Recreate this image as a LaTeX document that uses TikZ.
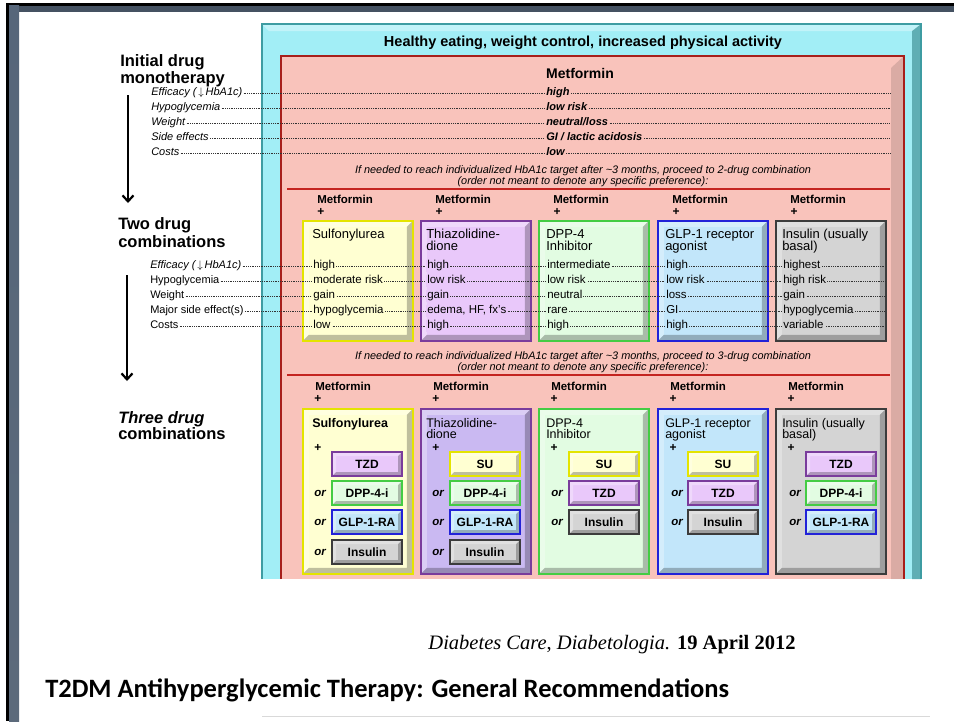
\documentclass[tikz,border=0pt]{standalone}
\usepackage{fontspec}
\setmainfont{Liberation Sans}
\newfontfamily\timesfont{Liberation Serif}
\newfontfamily\calibrifont{Carlito}
\usetikzlibrary{arrows.meta}

\definecolor{cyanband}{HTML}{A2EEF6}
\definecolor{tealedge}{HTML}{3E9CA2}
\definecolor{tealdark}{HTML}{5FAEB4}
\definecolor{pinkbg}{HTML}{F9C3BB}
\definecolor{redline}{HTML}{C42420}
\definecolor{sufill}{HTML}{FFFFD2}
\definecolor{suedge}{HTML}{E4E400}
\definecolor{tzfill}{HTML}{E9C8FA}
\definecolor{tzfillb}{HTML}{CAB9F2}
\definecolor{tzedge}{HTML}{7A3C9C}
\definecolor{dpfill}{HTML}{E2FCE2}
\definecolor{dpedge}{HTML}{44CC44}
\definecolor{glfill}{HTML}{C2E6FA}
\definecolor{gledge}{HTML}{2222D8}
\definecolor{infill}{HTML}{D4D4D4}
\definecolor{inedge}{HTML}{3C3C3C}
\definecolor{slate}{HTML}{56667A}
\definecolor{mauve}{HTML}{86706F}

\begin{document}
\begin{tikzpicture}[x=1pt,y=-1pt,line width=.5pt,
  bevel/.style={path picture={
    \fill[black,opacity=.25] (path picture bounding box.north east) -- (path picture bounding box.south east) -- (path picture bounding box.south west) -- ([shift={(#1,-#1)}]path picture bounding box.south west) -- ([shift={(-#1,-#1)}]path picture bounding box.south east) -- ([shift={(-#1,#1)}]path picture bounding box.north east) -- cycle;
    \fill[white,opacity=.3] (path picture bounding box.north west) -- (path picture bounding box.north east) -- ([shift={(-#1,#1)}]path picture bounding box.north east) -- ([shift={(#1,#1)}]path picture bounding box.north west) -- ([shift={(#1,-#1)}]path picture bounding box.south west) -- (path picture bounding box.south west) -- cycle;}},
  drugbox/.style 2 args={fill=#1,draw=#2,line width=1.5pt,bevel=6,inner sep=0pt,anchor=north west,minimum width=110},
  pill/.style 2 args={fill=#1,draw=#2,line width=1.4pt,bevel=4,inner sep=0pt,minimum width=70,minimum height=24,font=\bfseries\fontsize{12}{14}\selectfont},
  leader/.style={line width=.45pt,dash pattern=on .9pt off .9pt,black!80},
  mlab/.style={anchor=west,inner sep=1pt,font=\itshape\fontsize{11}{13}\selectfont,text height=8pt,text depth=2.5pt},
  rowlab/.style={anchor=west,inner sep=1pt,font=\fontsize{11}{13}\selectfont,text height=8pt,text depth=2.5pt},
  monoval/.style={anchor=west,inner sep=1pt,fill=pinkbg,font=\bfseries\itshape\fontsize{11}{13}\selectfont,text height=8pt,text depth=2.5pt},
  val/.style={anchor=west,inner sep=1pt,font=\fontsize{11.5}{13}\selectfont,text height=8pt,text depth=2.5pt},
  title/.style={anchor=base west,inner sep=0pt,font=\fontsize{13}{14}\selectfont},
  metf/.style={anchor=west,inner sep=0pt,font=\bfseries\fontsize{11.5}{13}\selectfont},
  plus/.style={inner sep=0pt,font=\bfseries\fontsize{12}{13}\selectfont},
  orlab/.style={inner sep=0pt,font=\bfseries\itshape\fontsize{11.5}{13}\selectfont},
  note/.style={inner sep=0pt,font=\itshape\fontsize{10.9}{12}\selectfont},
  stage/.style={anchor=base west,inner sep=0pt,font=\bfseries\fontsize{16.5}{18}\selectfont},
  stagearrow/.style={line width=2.2pt,-{Straight Barb[length=6pt,width=11pt]}}]
\path[use as bounding box] (0,0) rectangle (954,721);
% slide frame
\fill[black] (6,3) rectangle (954,5.5);
\fill[black] (6,3) rectangle (9,721);
\shade[top color=slate,middle color=mauve,bottom color=slate!85!gray] (9,5.5) rectangle (19,721);
\fill[slate!80!black] (19,5.5) rectangle (954,12);
% lifestyle frame
\fill[cyanband] (262,24) rectangle (921,579);
\fill[tealdark] (912,31) -- (921,24) -- (921,579) -- (912,579) -- cycle;
\fill[white,opacity=.35] (262,24) -- (921,24) -- (912,31) -- (269,31) -- cycle;
\draw[tealedge,line width=1.4pt] (262,579) -- (262,24) -- (921,24) -- (921,579);
\node[font=\bfseries\fontsize{14.5}{16}\selectfont] (hdr) at (583,43) {Healthy eating, weight control, increased physical activity};
% metformin panel
\fill[pinkbg] (280,55) rectangle (905,579);
\fill[black,opacity=.12] (891,68) -- (904,56) -- (904,579) -- (891,579) -- cycle;
\draw[redline!85!black,line width=1.6pt] (281,579) -- (281,56) -- (904,56) -- (904,579);
\node[font=\bfseries\fontsize{14}{16}\selectfont] (met) at (580,73) {Metformin};
% stage labels
\node[stage] (mono1) at (120,66) {Initial drug};
\node[stage] (mono2) at (120,83) {monotherapy};
\draw[stagearrow] (128,95) -- (128,203);
\node[stage] (two1) at (118,229) {Two drug};
\node[stage] (two2) at (118,247) {combinations};
\draw[stagearrow] (127,275) -- (127,381);
\node[stage,font=\bfseries\itshape\fontsize{16.5}{18}\selectfont] (three1) at (118,423) {Three drug};
\node[stage] (three2) at (118,439) {combinations};
% monotherapy rows
\node[mlab] (m1) at (150,93) {Efficacy (\,$\downarrow$\,HbA1c)};
\node[mlab] (m2) at (150,108) {Hypoglycemia};
\node[mlab] (m3) at (150,123) {Weight};
\node[mlab] (m4) at (150,138) {Side effects};
\node[mlab] (m5) at (150,153) {Costs};
\coordinate (m1e) at (890,93);
\coordinate (m2e) at (890,108);
\coordinate (m3e) at (890,123);
\coordinate (m4e) at (890,138);
\coordinate (m5e) at (890,153);
\draw[leader] (m1.east) -- (m1e);
\draw[leader] (m2.east) -- (m2e);
\draw[leader] (m3.east) -- (m3e);
\draw[leader] (m4.east) -- (m4e);
\draw[leader] (m5.east) -- (m5e);
\node[monoval] (mv1) at (545,93) {high};
\node[monoval] (mv2) at (545,108) {low risk};
\node[monoval] (mv3) at (545,123) {neutral/loss};
\node[monoval] (mv4) at (545,138) {GI / lactic acidosis};
\node[monoval] (mv5) at (545,153) {low};
\node[note] (n2a) at (583,171) {If needed to reach individualized HbA1c target after \textasciitilde3 months, proceed to 2-drug combination};
\node[note] (n2b) at (583,182) {(order not meant to denote any specific preference):};
\draw[redline,line width=1.8pt] (287,189) -- (890,189);
% two drug combinations
\node[metf] (mf21) at (317,199) {Metformin};
\node[metf] (mf22) at (435,199) {Metformin};
\node[metf] (mf23) at (553,199) {Metformin};
\node[metf] (mf24) at (672,199) {Metformin};
\node[metf] (mf25) at (790,199) {Metformin};
\node[plus] (p21) at (321,212) {+};
\node[plus] (p22) at (439,212) {+};
\node[plus] (p23) at (557,212) {+};
\node[plus] (p24) at (676,212) {+};
\node[plus] (p25) at (794,212) {+};
\node[drugbox={sufill}{suedge},minimum height=120] (su2) at (302,220) {};
\node[drugbox={tzfill}{tzedge},minimum height=120] (tz2) at (420,220) {};
\node[drugbox={dpfill}{dpedge},minimum height=120] (dp2) at (538,220) {};
\node[drugbox={glfill}{gledge},minimum height=120] (gl2) at (657,220) {};
\node[drugbox={infill}{inedge},minimum height=120] (in2) at (775,220) {};
\node[title] (su2t) at (312,238) {Sulfonylurea};
\node[title] (tz2t) at (426,238) {Thiazolidine-};
\node[title] (tz2u) at (426,250) {dione};
\node[title] (dp2t) at (546,238) {DPP-4};
\node[title] (dp2u) at (546,250) {Inhibitor};
\node[title] (gl2t) at (665,238) {GLP-1 receptor};
\node[title] (gl2u) at (665,250) {agonist};
\node[title] (in2t) at (782,238) {Insulin (usually};
\node[title] (in2u) at (782,250) {basal)};
\node[rowlab,font=\itshape\fontsize{11}{13}\selectfont] (r1) at (149,266) {Efficacy (\,$\downarrow$\,HbA1c)};
\node[rowlab] (r2) at (149,281) {Hypoglycemia};
\node[rowlab] (r3) at (149,296) {Weight};
\node[rowlab] (r4) at (149,311) {Major side effect(s)};
\node[rowlab] (r5) at (149,326) {Costs};
\coordinate (r1e) at (885,266);
\coordinate (r2e) at (885,281);
\coordinate (r3e) at (885,296);
\coordinate (r4e) at (885,311);
\coordinate (r5e) at (885,326);
\draw[leader] (r1.east) -- (r1e);
\draw[leader] (r2.east) -- (r2e);
\draw[leader] (r3.east) -- (r3e);
\draw[leader] (r4.east) -- (r4e);
\draw[leader] (r5.east) -- (r5e);
\node[val,fill=sufill] (su2a) at (312,266) {high};
\node[val,fill=sufill] (su2b) at (312,281) {moderate risk};
\node[val,fill=sufill] (su2c) at (312,296) {gain};
\node[val,fill=sufill] (su2d) at (312,311) {hypoglycemia};
\node[val,fill=sufill] (su2e) at (312,326) {low};
\node[val,fill=tzfill] (tz2a) at (426,266) {high};
\node[val,fill=tzfill] (tz2b) at (426,281) {low risk};
\node[val,fill=tzfill] (tz2c) at (426,296) {gain};
\node[val,fill=tzfill] (tz2d) at (426,311) {edema, HF, fx's};
\node[val,fill=tzfill] (tz2e) at (426,326) {high};
\node[val,fill=dpfill] (dp2a) at (546,266) {intermediate};
\node[val,fill=dpfill] (dp2b) at (546,281) {low risk};
\node[val,fill=dpfill] (dp2c) at (546,296) {neutral};
\node[val,fill=dpfill] (dp2d) at (546,311) {rare};
\node[val,fill=dpfill] (dp2e) at (546,326) {high};
\node[val,fill=glfill] (gl2a) at (665,266) {high};
\node[val,fill=glfill] (gl2b) at (665,281) {low risk};
\node[val,fill=glfill] (gl2c) at (665,296) {loss};
\node[val,fill=glfill] (gl2d) at (665,311) {GI};
\node[val,fill=glfill] (gl2e) at (665,326) {high};
\node[val,fill=infill] (in2a) at (782,266) {highest};
\node[val,fill=infill] (in2b) at (782,281) {high risk};
\node[val,fill=infill] (in2c) at (782,296) {gain};
\node[val,fill=infill] (in2d) at (782,311) {hypoglycemia};
\node[val,fill=infill] (in2e) at (782,326) {variable};
\node[note] (n3a) at (583,357) {If needed to reach individualized HbA1c target after \textasciitilde3 months, proceed to 3-drug combination};
\node[note] (n3b) at (583,368) {(order not meant to denote any specific preference):};
\draw[redline,line width=1.8pt] (287,375) -- (890,375);
% three drug combinations
\node[metf] (mf31) at (315,386) {Metformin};
\node[metf] (mf32) at (433,386) {Metformin};
\node[metf] (mf33) at (551,386) {Metformin};
\node[metf] (mf34) at (670,386) {Metformin};
\node[metf] (mf35) at (788,386) {Metformin};
\node[plus] (p31) at (318,399) {+};
\node[plus] (p32) at (436,399) {+};
\node[plus] (p33) at (554,399) {+};
\node[plus] (p34) at (673,399) {+};
\node[plus] (p35) at (791,399) {+};
\node[drugbox={sufill}{suedge},minimum height=165] (su3) at (302,408) {};
\node[drugbox={tzfillb}{tzedge},minimum height=165] (tz3) at (420,408) {};
\node[drugbox={dpfill}{dpedge},minimum height=165] (dp3) at (538,408) {};
\node[drugbox={glfill}{gledge},minimum height=165] (gl3) at (657,408) {};
\node[drugbox={infill}{inedge},minimum height=165] (in3) at (775,408) {};
\node[title,font=\bfseries\fontsize{12.5}{13}\selectfont] (su3t) at (312,427.5) {Sulfonylurea};
\node[title,font=\fontsize{12.5}{13}\selectfont] (tz3t) at (426,427.5) {Thiazolidine-};
\node[title,font=\fontsize{12.5}{13}\selectfont] (tz3u) at (426,438.5) {dione};
\node[title,font=\fontsize{12.5}{13}\selectfont] (dp3t) at (546,427.5) {DPP-4};
\node[title,font=\fontsize{12.5}{13}\selectfont] (dp3u) at (546,438.5) {Inhibitor};
\node[title,font=\fontsize{12.5}{13}\selectfont] (gl3t) at (665,427.5) {GLP-1 receptor};
\node[title,font=\fontsize{12.5}{13}\selectfont] (gl3u) at (665,438.5) {agonist};
\node[title,font=\fontsize{12.5}{13}\selectfont] (in3t) at (782,427.5) {Insulin (usually};
\node[title,font=\fontsize{12.5}{13}\selectfont] (in3u) at (782,438.5) {basal)};
\node[plus] (q31) at (318,448) {+};
\node[plus] (q32) at (436,448) {+};
\node[plus] (q33) at (554,448) {+};
\node[plus] (q34) at (673,448) {+};
\node[plus] (q35) at (791,448) {+};
% sulfonylurea add-ons
\node[pill={tzfill}{tzedge}] (su3a) at (367,464) {TZD};
\node[pill={dpfill}{dpedge}] (su3b) at (367,493) {DPP-4-i};
\node[pill={glfill}{gledge}] (su3c) at (367,522) {GLP-1-RA};
\node[pill={infill}{inedge}] (su3d) at (367,552) {Insulin};
\node[orlab] (or31b) at (320,493) {or};
\node[orlab] (or31c) at (320,522) {or};
\node[orlab] (or31d) at (320,552) {or};
% thiazolidinedione add-ons
\node[pill={sufill}{suedge}] (tz3a) at (485,464) {SU};
\node[pill={dpfill}{dpedge}] (tz3b) at (485,493) {DPP-4-i};
\node[pill={glfill}{gledge}] (tz3c) at (485,522) {GLP-1-RA};
\node[pill={infill}{inedge}] (tz3d) at (485,552) {Insulin};
\node[orlab] (or32b) at (438,493) {or};
\node[orlab] (or32c) at (438,522) {or};
\node[orlab] (or32d) at (438,552) {or};
% dpp-4 inhibitor add-ons
\node[pill={sufill}{suedge}] (dp3a) at (604,464) {SU};
\node[pill={tzfill}{tzedge}] (dp3b) at (604,493) {TZD};
\node[pill={infill}{inedge}] (dp3c) at (604,522) {Insulin};
\node[orlab] (or33b) at (557,493) {or};
\node[orlab] (or33c) at (557,522) {or};
% glp-1 receptor agonist add-ons
\node[pill={sufill}{suedge}] (gl3a) at (723,464) {SU};
\node[pill={tzfill}{tzedge}] (gl3b) at (723,493) {TZD};
\node[pill={infill}{inedge}] (gl3c) at (723,522) {Insulin};
\node[orlab] (or34b) at (677,493) {or};
\node[orlab] (or34c) at (677,522) {or};
% insulin add-ons
\node[pill={tzfill}{tzedge}] (in3a) at (841,464) {TZD};
\node[pill={dpfill}{dpedge}] (in3b) at (841,493) {DPP-4-i};
\node[pill={glfill}{gledge}] (in3c) at (841,522) {GLP-1-RA};
\node[orlab] (or35b) at (795,493) {or};
\node[orlab] (or35c) at (795,522) {or};
% source and slide title
\node[font=\timesfont\fontsize{20.5}{24}\selectfont] (src) at (612,645) {\textit{Diabetes Care}, \textit{Diabetologia.} \textbf{19 April 2012}};
\node[anchor=west,inner sep=0pt,font=\calibrifont\bfseries\fontsize{26.5}{30}\selectfont] (slide) at (45,690) {T2DM Antihyperglycemic Therapy: General Recommendations};
\draw[black!15,line width=1pt] (262,716) -- (930,716);
\end{tikzpicture}
\end{document}
